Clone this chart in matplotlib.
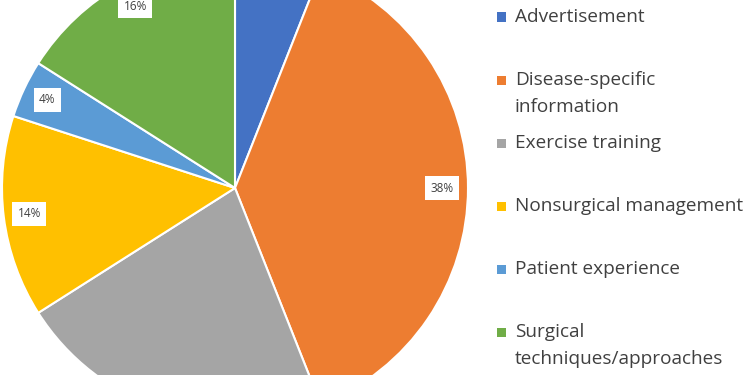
import matplotlib.pyplot as plt
from matplotlib.patches import Rectangle

# share of content categories (%)
categories = ['Advertisement', 'Disease-specific\ninformation', 'Exercise training',
              'Nonsurgical management', 'Patient experience', 'Surgical\ntechniques/approaches']
shares = [6, 38, 22, 14, 4, 16]
colors = ['#4472C4', '#ED7D31', '#A5A5A5', '#FFC000', '#5B9BD5', '#70AD47']

W, H = 750, 375
fig = plt.figure(figsize=(W / 100, H / 100), dpi=100)

# pie is larger than the canvas and gets cut at top and bottom
cx, cy, r = 235, 188, 233
ax = fig.add_axes([(cx - r) / W, (H - cy - r) / H, 2 * r / W, 2 * r / H])
wedges, texts, autotexts = ax.pie(
    shares, colors=colors, startangle=90, counterclock=False, radius=1,
    autopct=lambda p: f'{p:.0f}%', pctdistance=0.89,
    wedgeprops=dict(edgecolor='white', linewidth=1.5),
    textprops=dict(fontsize=8.5, color='#404040', family='Open Sans'))
ax.set_xlim(-1, 1)
ax.set_ylim(-1, 1)
ax.set_aspect('equal')
ax.axis('off')

fig.canvas.draw()
for t in autotexts:
    t.set_bbox(dict(facecolor='white', edgecolor='none', boxstyle='square,pad=0.45'))
    # labels whose anchor falls outside the canvas are not shown in the original
    px, py = ax.transData.transform(t.get_position())
    if not (0 <= py <= H):
        t.set_visible(False)

# legend drawn by hand: square aligned with first line of each entry
y0, step, line_h = 17, 63, 27
for i, (lab, col) in enumerate(zip(categories, colors)):
    y = y0 + step * i
    fig.patches.append(Rectangle((497 / W, (H - y - 4.5) / H), 9 / W, 9 / H,
                                 transform=fig.transFigure, facecolor=col, edgecolor='none'))
    for j, line in enumerate(lab.split('\n')):
        fig.text(515 / W, (H - y - j * line_h) / H, line, fontsize=13.7, color='#404040',
                 family='Open Sans', va='center', ha='left')

fig.savefig('out.png', dpi=100)
